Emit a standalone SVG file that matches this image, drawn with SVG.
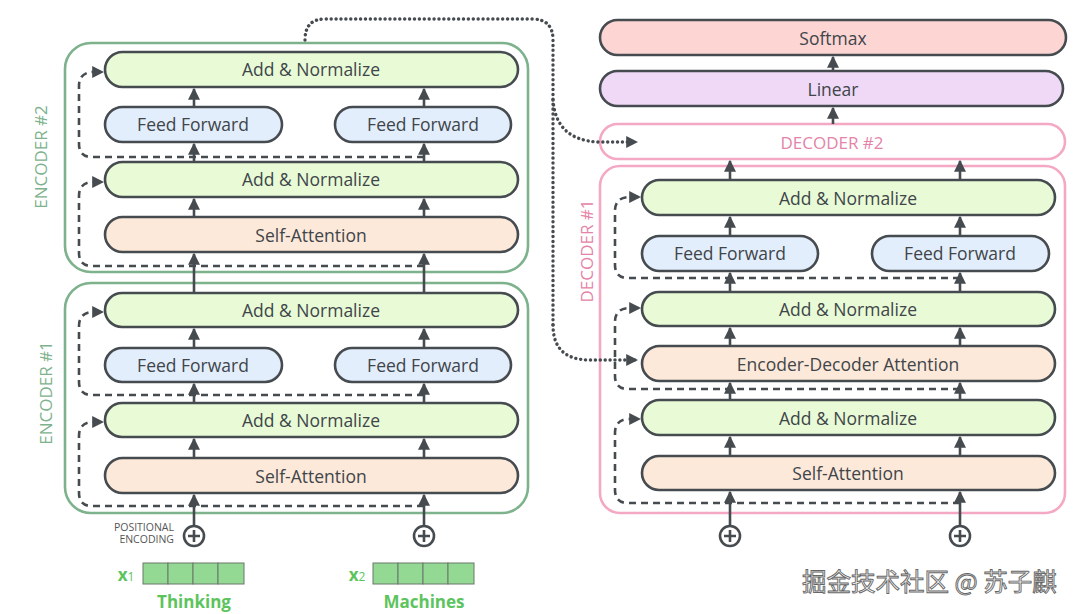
<svg xmlns="http://www.w3.org/2000/svg" width="1080" height="614" viewBox="0 0 1080 614">
<defs>
<style>
.n{stroke:#464b50;stroke-width:2.6}
.an{fill:#e8fbd6}.ff{fill:#e3eefc}.sa{fill:#fde9d9}.sm{fill:#fdd6d4}.li{fill:#efd9f6}
.t{font-family:"Open Sans","Liberation Sans",sans-serif;font-size:17.5px;fill:#40454a;text-anchor:middle;dominant-baseline:central}
.enc{fill:none;stroke:#7db28c;stroke-width:2.6}
.dec{fill:none;stroke:#f4a8c4;stroke-width:2.6}
.el{font-family:"Open Sans","Liberation Sans",sans-serif;font-size:17px;fill:#7db28c;text-anchor:middle;dominant-baseline:central}
.dl{font-family:"Open Sans","Liberation Sans",sans-serif;font-size:17px;fill:#e583a8;text-anchor:middle;dominant-baseline:central}
.a{fill:none;stroke:#464b50;stroke-width:2.6;marker-end:url(#ah)}
.d{fill:none;stroke:#464b50;stroke-width:2.6;stroke-dasharray:7 5;marker-end:url(#ah)}
.o{fill:none;stroke:#464b50;stroke-width:3.4;stroke-dasharray:0.1 4.8;stroke-linecap:round}
.od{fill:none;stroke:#464b50;stroke-width:3.4;stroke-dasharray:0.1 4.8;stroke-linecap:round;marker-end:url(#ahs)}
.pc{fill:#fff;stroke:#464b50;stroke-width:2.6}
.pl{stroke:#464b50;stroke-width:2.6}
.vec{fill:#93d893;stroke:#6a786a;stroke-width:1}
.w{font-family:"Open Sans","Liberation Sans",sans-serif;font-weight:bold;font-size:17px;fill:#5cc45c;text-anchor:middle}
.pe{font-family:"Open Sans","Liberation Sans",sans-serif;font-size:10.5px;fill:#555;text-anchor:end}
</style>
<marker id="ah" viewBox="0 0 10 10" refX="9" refY="5" markerWidth="12" markerHeight="12" markerUnits="userSpaceOnUse" orient="auto">
<path d="M0,0 L10,5 L0,10 z" fill="#464b50"/>
</marker>
<marker id="ahs" viewBox="0 0 10 10" refX="9" refY="5" markerWidth="12" markerHeight="12" markerUnits="userSpaceOnUse" orient="auto">
<path d="M0,0 L10,5 L0,10 z" fill="#464b50"/>
</marker>
</defs>

<g id="encoder2">
<rect class="enc" x="65" y="43" width="463" height="229" rx="26"/>
<text class="el" transform="translate(40,157) rotate(-90)">ENCODER #2</text>
</g>
<g id="encoder1">
<rect class="enc" x="65" y="283" width="463" height="230" rx="26"/>
<text class="el" transform="translate(45,393) rotate(-90)">ENCODER #1</text>
</g>
<g id="decoder2">
<rect class="dec" x="600" y="124" width="465" height="35" rx="17.5"/>
<text class="dl" x="832" y="142">DECODER #2</text>
</g>
<g id="decoder1">
<rect class="dec" x="600" y="166" width="465" height="347" rx="20"/>
<text class="dl" transform="translate(586,251) rotate(-90)">DECODER #1</text>
</g>

<g id="connectors">
<path class="a" d="M194,217 V199"/><path class="a" d="M424,217 V199"/>
<path class="a" d="M194,162 V144"/><path class="a" d="M424,162 V144"/>
<path class="a" d="M194,107 V89"/><path class="a" d="M424,107 V89"/>
<path class="a" d="M194,293 V254"/><path class="a" d="M424,293 V254"/>
<path class="d" d="M424,266 H92 Q79,266 79,253 V196 Q79,183 92,182 H103"/>
<path class="d" d="M424,157 H92 Q79,157 79,144 V86 Q79,73 92,72 H103"/>
<path class="a" d="M194,458 V439"/><path class="a" d="M424,458 V439"/>
<path class="a" d="M194,403 V384"/><path class="a" d="M424,403 V384"/>
<path class="a" d="M194,348 V329"/><path class="a" d="M424,348 V329"/>
<path class="a" d="M194,526 V495"/><path class="a" d="M424,526 V495"/>
<path class="d" d="M424,506 H92 Q79,506 79,493 V436 Q79,423 92,422 H103"/>
<path class="d" d="M424,395 H92 Q79,395 79,382 V326 Q79,313 92,312 H103"/>
<path class="a" d="M730,456 V437"/><path class="a" d="M960,456 V437"/>
<path class="a" d="M730,400 V383"/><path class="a" d="M960,400 V383"/>
<path class="a" d="M730,346 V328"/><path class="a" d="M960,346 V328"/>
<path class="a" d="M730,292 V273"/><path class="a" d="M960,292 V273"/>
<path class="a" d="M730,236 V217"/><path class="a" d="M960,236 V217"/>
<path class="a" d="M730,180 V161"/><path class="a" d="M960,180 V161"/>
<path class="a" d="M833,124 V108"/>
<path class="a" d="M833,71 V57"/>
<path class="a" d="M730,526 V492"/><path class="a" d="M960,526 V492"/>
<path class="d" d="M960,503 H628 Q615,503 615,490 V433 Q615,420 628,419 H640"/>
<path class="d" d="M960,389 H628 Q615,389 615,376 V322 Q615,309 628,308 H640"/>
<path class="d" d="M960,278 H628 Q615,278 615,265 V211 Q615,198 628,197 H640"/>
<path class="o" d="M305,40 Q305,19 325,19 H532 Q553,19 553,40 V325"/>
<path class="od" d="M553,325 Q553,360 590,360 H637"/>
<path class="od" d="M553,100 Q556,140 598,142 H637"/>
</g>

<g id="enc2-an-top"><rect class="n an" x="105" y="52" width="413" height="35" rx="17.5"/><text class="t" x="311" y="69">Add &amp; Normalize</text></g>
<g id="enc2-ff-left"><rect class="n ff" x="105" y="107" width="177" height="35" rx="17.5"/><text class="t" x="193" y="124">Feed Forward</text></g>
<g id="enc2-ff-right"><rect class="n ff" x="335" y="107" width="176" height="35" rx="17.5"/><text class="t" x="423" y="124">Feed Forward</text></g>
<g id="enc2-an"><rect class="n an" x="105" y="162" width="413" height="35" rx="17.5"/><text class="t" x="311" y="179">Add &amp; Normalize</text></g>
<g id="enc2-sa"><rect class="n sa" x="105" y="217" width="413" height="35" rx="17.5"/><text class="t" x="311" y="235">Self-Attention</text></g>

<g id="enc1-an-top"><rect class="n an" x="105" y="293" width="413" height="34" rx="17"/><text class="t" x="311" y="310">Add &amp; Normalize</text></g>
<g id="enc1-ff-left"><rect class="n ff" x="105" y="348" width="177" height="34" rx="17"/><text class="t" x="193" y="365">Feed Forward</text></g>
<g id="enc1-ff-right"><rect class="n ff" x="335" y="348" width="176" height="34" rx="17"/><text class="t" x="423" y="365">Feed Forward</text></g>
<g id="enc1-an"><rect class="n an" x="105" y="403" width="413" height="34" rx="17"/><text class="t" x="311" y="420">Add &amp; Normalize</text></g>
<g id="enc1-sa"><rect class="n sa" x="105" y="458" width="413" height="35" rx="17.5"/><text class="t" x="311" y="476">Self-Attention</text></g>

<g id="softmax"><rect class="n sm" x="600" y="20" width="466" height="35" rx="17.5"/><text class="t" x="833" y="38">Softmax</text></g>
<g id="linear"><rect class="n li" x="600" y="71" width="463" height="35" rx="17.5"/><text class="t" x="833" y="89">Linear</text></g>
<g id="dec1-an-top"><rect class="n an" x="642" y="180" width="413" height="35" rx="17.5"/><text class="t" x="848" y="198">Add &amp; Normalize</text></g>
<g id="dec1-ff-left"><rect class="n ff" x="642" y="236" width="176" height="35" rx="17.5"/><text class="t" x="730" y="253">Feed Forward</text></g>
<g id="dec1-ff-right"><rect class="n ff" x="872" y="236" width="177" height="35" rx="17.5"/><text class="t" x="960" y="253">Feed Forward</text></g>
<g id="dec1-an-mid"><rect class="n an" x="642" y="292" width="413" height="34" rx="17"/><text class="t" x="848" y="309">Add &amp; Normalize</text></g>
<g id="dec1-eda"><rect class="n sa" x="642" y="346" width="413" height="35" rx="17.5"/><text class="t" x="848" y="364">Encoder-Decoder Attention</text></g>
<g id="dec1-an"><rect class="n an" x="642" y="400" width="413" height="35" rx="17.5"/><text class="t" x="848" y="418">Add &amp; Normalize</text></g>
<g id="dec1-sa"><rect class="n sa" x="642" y="456" width="413" height="34" rx="17"/><text class="t" x="848" y="473">Self-Attention</text></g>

<g id="plus-enc-1"><circle class="pc" cx="194" cy="536" r="10"/><path class="pl" d="M188,536 H200 M194,530 V542"/></g>
<g id="plus-enc-2"><circle class="pc" cx="424" cy="536" r="10"/><path class="pl" d="M418,536 H430 M424,530 V542"/></g>
<g id="plus-dec-1"><circle class="pc" cx="730" cy="536" r="10"/><path class="pl" d="M724,536 H736 M730,530 V542"/></g>
<g id="plus-dec-2"><circle class="pc" cx="960" cy="536" r="10"/><path class="pl" d="M954,536 H966 M960,530 V542"/></g>
<g id="positional-label"><text class="pe" x="174" y="531">POSITIONAL</text><text class="pe" x="174" y="543">ENCODING</text></g>

<g id="x1">
<rect class="vec" x="143" y="563" width="25" height="21"/><rect class="vec" x="168" y="563" width="25" height="21"/><rect class="vec" x="193" y="563" width="25" height="21"/><rect class="vec" x="218" y="563" width="26" height="21"/>
<text class="w" x="126" y="581" style="font-size:17px">x<tspan font-size="12" font-weight="normal">1</tspan></text>
<text class="w" x="194" y="608">Thinking</text>
</g>
<g id="x2">
<rect class="vec" x="373" y="563" width="25" height="21"/><rect class="vec" x="398" y="563" width="25" height="21"/><rect class="vec" x="423" y="563" width="25" height="21"/><rect class="vec" x="448" y="563" width="26" height="21"/>
<text class="w" x="357" y="581" style="font-size:17px">x<tspan font-size="12" font-weight="normal">2</tspan></text>
<text class="w" x="424" y="608">Machines</text>
</g>

<text x="802" y="591" font-family="'Noto Sans CJK SC',sans-serif" font-size="24.5" fill="#f4f4f4" stroke="#666" stroke-width="0.9">掘金技术社区 @ 苏子麒</text>
</svg>
